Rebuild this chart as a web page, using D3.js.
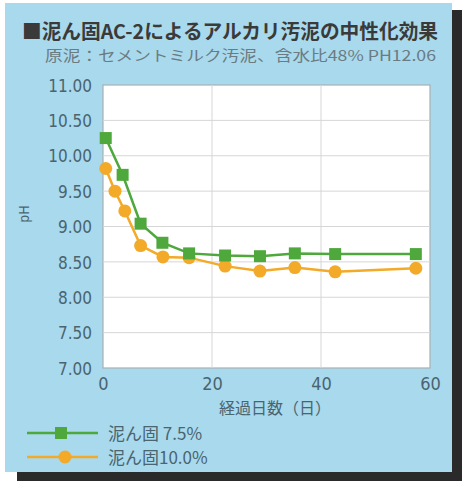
<!DOCTYPE html>
<html>
<head>
<meta charset="utf-8">
<script src="https://cdn.jsdelivr.net/npm/d3@7"></script>
<style>
  html, body { margin: 0; padding: 0; background: #fff; }
  svg { display: block; }
</style>
</head>
<body>
<div id="chart"></div>
<script>
// ----------------------------
// Data
// ----------------------------
const daysA = [0.5, 3.6, 6.9, 10.9, 15.8, 22.4, 28.8, 35.2, 42.6, 57.4];
const phA = [10.25, 9.73, 9.04, 8.77, 8.62, 8.59, 8.58, 8.62, 8.61, 8.61];
const daysB = [0.5, 2.2, 4.0, 6.9, 11.0, 15.8, 22.4, 28.8, 35.2, 42.6, 57.4];
const phB = [9.82, 9.50, 9.22, 8.73, 8.57, 8.56, 8.44, 8.37, 8.42, 8.36, 8.41];
const seriesNames = ['泥ん固 7.5%', '泥ん固10.0%'];
const yTicks = [7, 7.5, 8, 8.5, 9, 9.5, 10, 10.5, 11];
const xTicks = [0, 20, 40, 60];

const W = 462, H = 481;
const plot = { left: 103, top: 85, right: 430, bottom: 368 };
const green = '#4ea83c', orange = '#f2aa28';
const textCol = '#4a6470';

const svg = d3.select('#chart').append('svg')
  .attr('width', W).attr('height', H);

// ----------------------------
// Card + shadow
// ----------------------------
svg.append('rect').attr('x', 17).attr('y', 10).attr('width', 445).attr('height', 471)
  .attr('fill', '#2a2a2a');
svg.append('rect').attr('x', 5).attr('y', 3).attr('width', 447).attr('height', 469)
  .attr('fill', '#a9d9ec');

// ----------------------------
// Titles
// ----------------------------
svg.append('text').attr('x', 22).attr('y', 39)
  .attr('font-family', '"Noto Sans CJK JP", sans-serif')
  .attr('font-size', 20).attr('font-weight', 'bold').attr('fill', '#3a3a3a')
  .attr('textLength', 416).attr('lengthAdjust', 'spacingAndGlyphs')
  .text('■泥ん固AC-2によるアルカリ汚泥の中性化効果');

svg.append('text').attr('x', 45).attr('y', 61)
  .attr('font-family', '"Noto Sans CJK JP", sans-serif')
  .attr('font-size', 14.5).attr('fill', '#6b7b82')
  .attr('textLength', 391).attr('lengthAdjust', 'spacingAndGlyphs')
  .text('原泥：セメントミルク汚泥、含水比48% PH12.06');

// ----------------------------
// Scales
// ----------------------------
const x = d3.scaleLinear().domain([0, 60]).range([plot.left, plot.right]);
const y = d3.scaleLinear().domain([7, 11]).range([plot.bottom, plot.top]);

svg.append('rect')
  .attr('x', plot.left).attr('y', plot.top)
  .attr('width', plot.right - plot.left).attr('height', plot.bottom - plot.top)
  .attr('fill', '#fff').attr('stroke', '#a7b0b4').attr('stroke-width', 1.2);

// gridlines
svg.append('g')
  .selectAll('line.h')
  .data(yTicks.slice(1, -1))
  .enter().append('line')
  .attr('x1', plot.left).attr('x2', plot.right)
  .attr('y1', d => y(d)).attr('y2', d => y(d))
  .attr('stroke', '#d6d6d8').attr('stroke-width', 1);

svg.append('g')
  .selectAll('line.v')
  .data(xTicks.slice(1, -1))
  .enter().append('line')
  .attr('x1', d => x(d)).attr('x2', d => x(d))
  .attr('y1', plot.top).attr('y2', plot.bottom)
  .attr('stroke', '#d6d6d8').attr('stroke-width', 1);

// ----------------------------
// Axes
// ----------------------------
const axisFont = '"DejaVu Sans Condensed", "DejaVu Sans", sans-serif';

const yAxis = svg.append('g')
  .attr('transform', `translate(${plot.left},0)`)
  .call(d3.axisLeft(y).tickValues(yTicks).tickFormat(d3.format('.2f')).tickSize(0).tickPadding(11));
yAxis.select('.domain').remove();
yAxis.selectAll('text')
  .attr('font-family', axisFont).attr('font-size', 17).attr('fill', textCol)
  .attr('dy', '0.36em');

const xAxis = svg.append('g')
  .attr('transform', `translate(0,${plot.bottom})`)
  .call(d3.axisBottom(x).tickValues(xTicks).tickSize(0).tickPadding(9));
xAxis.select('.domain').remove();
xAxis.selectAll('text')
  .attr('font-family', axisFont).attr('font-size', 18).attr('fill', textCol);

svg.append('text')
  .attr('transform', 'translate(29,214) rotate(-90)')
  .attr('text-anchor', 'middle')
  .attr('font-family', axisFont).attr('font-size', 14).attr('fill', textCol)
  .text('pH');

svg.append('text')
  .attr('x', 275).attr('y', 414).attr('text-anchor', 'middle')
  .attr('font-family', '"Noto Sans CJK JP", sans-serif')
  .attr('font-size', 16).attr('fill', textCol)
  .text('経過日数（日）');

// ----------------------------
// Series
// ----------------------------
const line = d3.line().x(d => x(d[0])).y(d => y(d[1]));
const ptsA = daysA.map((d, i) => [d, phA[i]]);
const ptsB = daysB.map((d, i) => [d, phB[i]]);

svg.append('path').datum(ptsB).attr('d', line)
  .attr('fill', 'none').attr('stroke', orange).attr('stroke-width', 2.5);
svg.append('path').datum(ptsA).attr('d', line)
  .attr('fill', 'none').attr('stroke', green).attr('stroke-width', 2.5);

svg.append('g').selectAll('circle')
  .data(ptsB).enter().append('circle')
  .attr('cx', d => x(d[0])).attr('cy', d => y(d[1]))
  .attr('r', 6.5).attr('fill', orange);

svg.append('g').selectAll('rect')
  .data(ptsA).enter().append('rect')
  .attr('x', d => x(d[0]) - 6).attr('y', d => y(d[1]) - 6)
  .attr('width', 12).attr('height', 12).attr('fill', green);

// ----------------------------
// Legend
// ----------------------------
const legend = svg.append('g');
const legendRows = [
  { name: seriesNames[0], color: green, shape: 'square', y: 433 },
  { name: seriesNames[1], color: orange, shape: 'circle', y: 457 }
];
legendRows.forEach(r => {
  legend.append('line').attr('x1', 27).attr('x2', 98)
    .attr('y1', r.y).attr('y2', r.y)
    .attr('stroke', r.color).attr('stroke-width', 2.5);
  if (r.shape === 'square') {
    legend.append('rect').attr('x', 55).attr('y', r.y - 6)
      .attr('width', 12).attr('height', 12).attr('fill', r.color);
  } else {
    legend.append('circle').attr('cx', 65).attr('cy', r.y).attr('r', 6.5)
      .attr('fill', r.color);
  }
  legend.append('text').attr('x', 108).attr('y', r.y + 7)
    .attr('font-family', '"Noto Sans CJK JP", sans-serif')
    .attr('font-size', 17).attr('fill', textCol)
    .text(r.name);
});
</script>
</body>
</html>
